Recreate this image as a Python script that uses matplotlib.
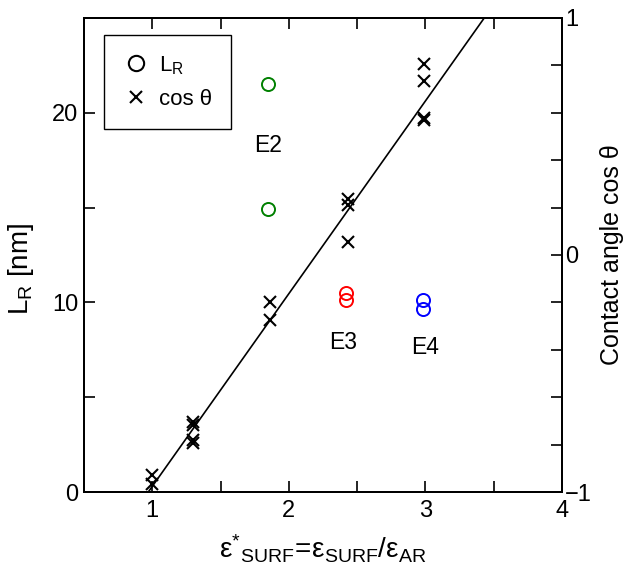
import matplotlib
matplotlib.use("Agg")
import matplotlib.pyplot as plt
from matplotlib.lines import Line2D
from matplotlib.ticker import MultipleLocator
import numpy as np

plt.rcParams["font.family"] = ["Liberation Sans", "DejaVu Sans"]
plt.rcParams["mathtext.fontset"] = "custom"
plt.rcParams["mathtext.rm"] = "Liberation Sans"
plt.rcParams["mathtext.it"] = "Liberation Sans"

# contact angle data (right axis): eps* vs cos(theta)
eps_cos = [1.0, 1.0, 1.3, 1.3, 1.3, 1.3, 1.86, 1.86, 2.43, 2.43, 2.43, 2.99, 2.99, 2.99, 2.99]
cos_theta = [-0.928, -0.966, -0.705, -0.717, -0.781, -0.793, -0.198, -0.274,
             0.236, 0.211, 0.055, 0.806, 0.734, 0.577, 0.570]

# L_R data (left axis), one group per electrolyte
groups = ["E2", "E3", "E4"]
eps_lr = [1.85, 2.42, 2.98]
lr_vals = [[21.5, 14.9], [10.5, 10.15], [10.15, 9.65]]
group_colors = ["#008000", "#ff0000", "#0000ff"]
label_pos = [(1.85, 18.3), (2.40, 7.9), (3.00, 7.6)]

# linear fit of cos(theta) against eps*
fit_slope, fit_icpt = 0.813, -1.789

fig = plt.figure(figsize=(6.38, 5.69), dpi=100)
ax = fig.add_axes([0.1317, 0.1353, 0.7492, 0.8331])
ax2 = ax.twinx()

ax.set_xlim(0.5, 4)
ax.set_ylim(0, 25)
ax2.set_ylim(-1, 1)

for g, x, ys, c, (tx, ty) in zip(groups, eps_lr, lr_vals, group_colors, label_pos):
    ax.plot([x] * len(ys), ys, "o", mfc="none", mec=c, ms=9.4, mew=1.4, ls="none")
    ax.text(tx, ty, g, ha="center", va="center", fontsize=16.5)

ax2.plot(eps_cos, cos_theta, "x", color="k", ms=8.5, mew=1.5, ls="none")
xf = np.array([0.5, 4.0])
ax2.plot(xf, fit_slope * xf + fit_icpt, "-", color="k", lw=1.2)

ax.xaxis.set_major_locator(MultipleLocator(1))
ax.xaxis.set_minor_locator(MultipleLocator(0.5))
ax.yaxis.set_major_locator(MultipleLocator(10))
ax.yaxis.set_minor_locator(MultipleLocator(5))
ax2.yaxis.set_major_locator(MultipleLocator(1))
ax2.yaxis.set_minor_locator(MultipleLocator(0.2))

ax.tick_params(which="both", direction="in", top=True, right=False, labelsize=17,
               width=1.2, length=8)
ax.tick_params(axis="y", pad=4)
ax.tick_params(axis="x", pad=6)
ax2.tick_params(which="both", direction="in", length=8, width=1.2, labelsize=17, pad=2)

for a in (ax, ax2):
    for s in a.spines.values():
        s.set_linewidth(1.4)

ax.set_xlabel(r"$\mathrm{\varepsilon^{*}{}_{SURF}\!=\!\varepsilon_{SURF}/\varepsilon_{AR}}$",
              fontsize=20)
ax.xaxis.set_label_coords(0.5, -0.085)
ax.set_ylabel(r"$\mathrm{L_R}$ [nm]", fontsize=20)
ax.yaxis.set_label_coords(-0.10, 0.47)
ax2.set_ylabel("Contact angle cos θ", fontsize=18, labelpad=6)

handles = [Line2D([], [], marker="o", ls="none", mfc="none", mec="k", ms=11, mew=1.5),
           Line2D([], [], marker="x", ls="none", color="k", ms=8.5, mew=1.5)]
leg = ax2.legend(handles, [r"$\mathrm{L_R}$", "cos θ"], loc="upper left",
                 bbox_to_anchor=(0.042, 0.964), borderaxespad=0, fancybox=False,
                 framealpha=1, edgecolor="k", fontsize=16, handletextpad=0.4,
                 borderpad=0.85, labelspacing=0.55, handlelength=1.2)
leg.get_frame().set_linewidth(1.0)

fig.savefig("out.png", dpi=100)
